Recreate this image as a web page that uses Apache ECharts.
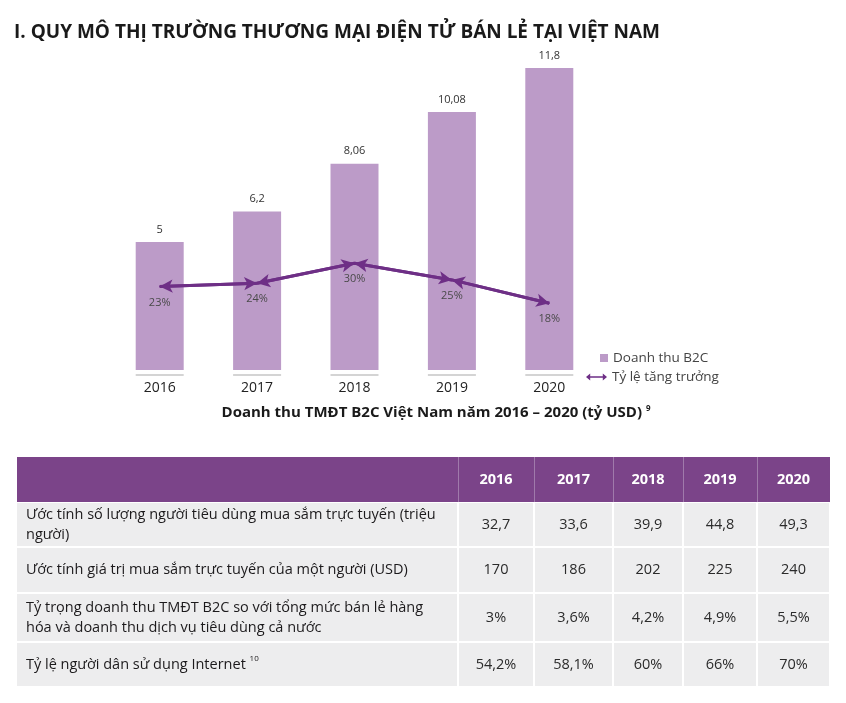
<!DOCTYPE html>
<html><head><meta charset="utf-8">
<script src="https://cdn.jsdelivr.net/npm/echarts@6/dist/echarts.min.js"></script>
<style>html,body{margin:0;padding:0;background:#fff}#c{width:846px;height:703px}</style>
</head><body><div id="c"></div>
<script>
// ---- data ----
const years = ['2016', '2017', '2018', '2019', '2020'];
const revenueB2C = [5, 6.2, 8.06, 10.08, 11.8];
const growthRate = [23, 24, 30, 25, 18];
const tableRowLabels = [
  'Ước tính số lượng người tiêu dùng mua sắm trực tuyến (triệu\nngười)',
  'Ước tính giá trị mua sắm trực tuyến của một người (USD)',
  'Tỷ trọng doanh thu TMĐT B2C so với tổng mức bán lẻ hàng\nhóa và doanh thu dịch vụ tiêu dùng cả nước',
  'Tỷ lệ người dân sử dụng Internet'
];
const tableRowNotes = ['', '', '', '10'];
const onlineShoppers = ['32,7', '33,6', '39,9', '44,8', '49,3'];
const spendPerPerson = ['170', '186', '202', '225', '240'];
const b2cShare = ['3%', '3,6%', '4,2%', '4,9%', '5,5%'];
const internetUsers = ['54,2%', '58,1%', '60%', '66%', '70%'];
const tableValues = [onlineShoppers, spendPerPerson, b2cShare, internetUsers];

const FONT = 'Open Sans';
const BAR = '#bc9bc8';
const LINE = '#6e2f86';
const HEAD = '#7b4489';
const CELL = '#ededee';

const chart = echarts.init(document.getElementById('c'), null, {renderer: 'canvas'});
const fmt = v => String(v).replace('.', ',');

// table graphics
const colX = [17, 458, 534, 613, 683, 757, 830];
const rowY = [457, 502, 547, 593, 642, 687];
const g = [];
g.push({type: 'rect', shape: {x: colX[0], y: rowY[0], width: colX[6] - colX[0], height: rowY[1] - rowY[0]}, style: {fill: HEAD}});
for (let c = 1; c < colX.length - 1; c++) {
  g.push({type: 'rect', shape: {x: colX[c], y: rowY[0], width: 1, height: rowY[1] - rowY[0]}, style: {fill: '#a07aab'}});
}
years.forEach((y, i) => {
  g.push({type: 'text', x: (colX[i + 1] + colX[i + 2]) / 2, y: (rowY[0] + rowY[1]) / 2,
    style: {text: y, fill: '#fff', font: 'bold 14.5px "' + FONT + '"', align: 'center', verticalAlign: 'middle'}});
});
tableRowLabels.forEach((lab, r) => {
  const y0 = rowY[r + 1], y1 = rowY[r + 2];
  for (let c = 0; c < colX.length - 1; c++) {
    g.push({type: 'rect', shape: {x: colX[c] + (c ? 1 : 0), y: y0 + 1, width: colX[c + 1] - colX[c] - (c ? 1 : 0) - 1, height: y1 - y0 - 2}, style: {fill: CELL}});
  }
  const note = tableRowNotes[r];
  g.push({type: 'text', x: 26, y: (y0 + y1) / 2,
    style: {text: lab + (note ? ' {s|' + note + '}' : ''), lineHeight: 20,
      fill: '#1c1a1c', font: '14.5px "' + FONT + '"', align: 'left', verticalAlign: 'middle',
      rich: {s: {fontSize: 8, fontFamily: FONT, verticalAlign: 'top', padding: [0, 0, 8, 0], fill: '#1c1a1c'}}}});
  tableValues[r].forEach((v, i) => {
    g.push({type: 'text', x: (colX[i + 1] + colX[i + 2]) / 2, y: (y0 + y1) / 2,
      style: {text: v, fill: '#2b2b2b', font: '14.5px "' + FONT + '"', align: 'center', verticalAlign: 'middle'}});
  });
});

const segs = [];
for (let i = 0; i < growthRate.length - 1; i++) {
  segs.push([{coord: [i, growthRate[i]]}, {coord: [i + 1, growthRate[i + 1]]}]);
}

chart.setOption({
  animation: false,
  textStyle: {fontFamily: FONT},
  title: [
    {text: 'I. QUY MÔ THỊ TRƯỜNG THƯƠNG MẠI ĐIỆN TỬ BÁN LẺ TẠI VIỆT NAM', left: 9, top: 18,
      textStyle: {fontSize: 19, fontWeight: 'bold', color: '#1a1a1a', fontFamily: FONT}},
    {text: 'Doanh thu TMĐT B2C Việt Nam năm 2016 – 2020 (tỷ USD) {s|9}', left: 431, top: 400, textAlign: 'center',
      textStyle: {fontSize: 15, fontWeight: 'bold', color: '#1a1a1a', fontFamily: FONT,
        rich: {s: {fontSize: 8, fontWeight: 'bold', verticalAlign: 'top', padding: [0, 0, 8, 0], color: '#1a1a1a'}}}}
  ],
  legend: [
    {data: [{name: 'Doanh thu B2C', icon: 'rect'}], left: 595, top: 346, itemWidth: 8, itemHeight: 8,
      textStyle: {fontSize: 13.5, color: '#444', fontFamily: FONT}},
    {data: [{name: 'Tỷ lệ tăng trưởng', icon: 'path://M0,5 L6,0 L6,4 L24,4 L24,0 L30,5 L24,10 L24,6 L6,6 L6,10 Z'}],
      left: 581, top: 365, itemWidth: 21, itemHeight: 7, itemStyle: {color: LINE},
      textStyle: {fontSize: 13.5, color: '#444', fontFamily: FONT}}
  ],
  grid: {left: 111, right: 248, top: 63, bottom: 333},
  xAxis: {type: 'category', data: years, axisLine: {show: false}, axisTick: {show: false},
    axisLabel: {margin: 11, fontSize: 14, color: '#222', fontFamily: FONT}},
  yAxis: [
    {type: 'value', min: 0, max: 12, show: false, splitLine: {show: false}},
    {type: 'value', min: -2, max: 90, show: false, splitLine: {show: false}}
  ],
  series: [
    {name: 'Doanh thu B2C', type: 'bar', data: revenueB2C, barWidth: 48, itemStyle: {color: BAR},
      label: {show: true, position: 'top', distance: 7, fontSize: 11, color: '#333', formatter: p => fmt(p.value)}},
    {name: 'base', type: 'scatter', data: years.map(() => 0), symbol: 'rect', symbolSize: [48, 2],
      symbolOffset: [0, 5], itemStyle: {color: '#c9c9c9'}, silent: true, z: 1},
    {name: 'Tỷ lệ tăng trưởng', type: 'line', yAxisIndex: 1, data: growthRate, symbol: 'circle', symbolSize: 1,
      lineStyle: {color: LINE, width: 3}, itemStyle: {color: LINE},
      label: {show: true, position: 'bottom', distance: 10, fontSize: 11, color: '#4a4a4a', formatter: '{c}%'},
      markLine: {silent: true, symbol: ['arrow', 'arrow'], symbolSize: [10, 13],
        lineStyle: {color: LINE, width: 3, type: 'solid'}, label: {show: false}, data: segs}, z: 3}
  ],
  graphic: g
});
</script></body></html>
